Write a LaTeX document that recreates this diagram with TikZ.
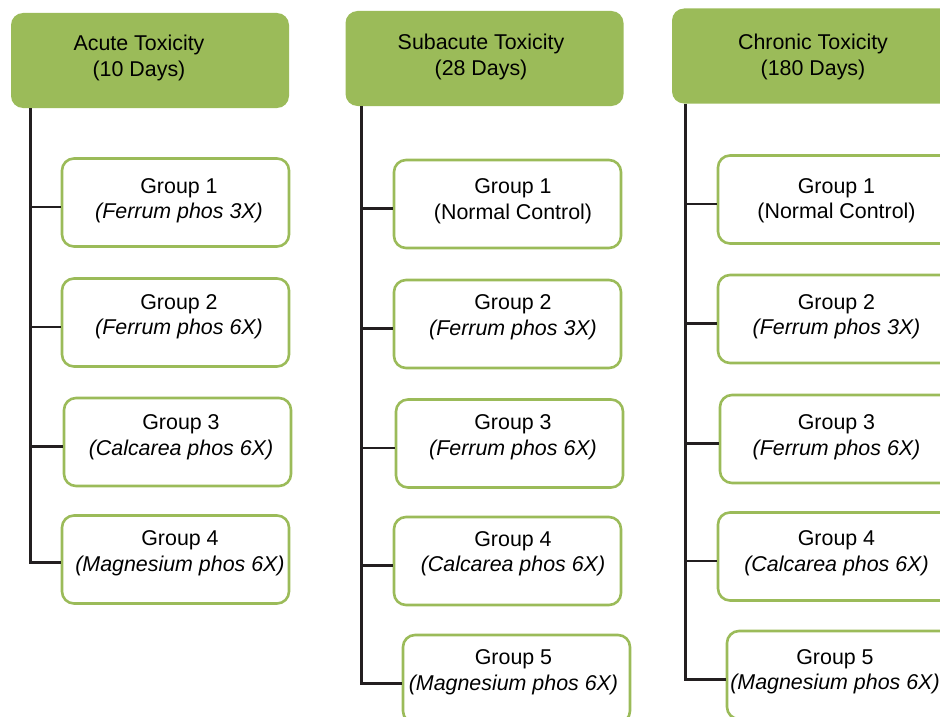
\documentclass[tikz,border=0pt]{standalone}
\usepackage{fontspec}
\setmainfont{Liberation Sans}
\begin{document}
\begin{tikzpicture}[x=1pt,y=-1pt,
  topbox/.style={fill=topgreen, rounded corners=12pt, minimum width=278pt, minimum height=95pt, inner sep=0pt},
  grpbox/.style={draw=topgreen, line width=2.6pt, fill=white, rounded corners=12pt, minimum width=227pt, minimum height=88pt, inner sep=0pt},
  txt/.style={inner sep=0pt, align=center, font=\fontsize{21.4}{25.5}\selectfont},
  conn/.style={draw=linecol, line width=2.8pt}]
\definecolor{topgreen}{HTML}{9BBB59}
\definecolor{linecol}{HTML}{231F20}
\useasboundingbox (0,0) rectangle (940,717);
\clip (0,0) rectangle (940,717);
% top boxes
\node[topbox] (t1) at (150,60.5) {};
\node[topbox] (t2) at (484.5,58.5) {};
\node[topbox, minimum width=282pt] (t3) at (813,56) {};
\node[txt] (t1t) at (139,58) {Acute Toxicity\\(10 Days)};
\node[txt] (t2t) at (481,57) {Subacute Toxicity\\(28 Days)};
\node[txt] (t3t) at (813,57) {Chronic Toxicity\\(180 Days)};
% column 1
\node[grpbox] (a1) at (175.5,202.5) {};
\node[grpbox] (a2) at (175.5,322.5) {};
\node[grpbox] (a3) at (177.5,442) {};
\node[grpbox] (a4) at (175.5,559.5) {};
\node[txt] (a1t) at (179,200.5) {Group 1\\\textit{(Ferrum phos 3X)}};
\node[txt] (a2t) at (179,316.5) {Group 2\\\textit{(Ferrum phos 6X)}};
\node[txt] (a3t) at (181,437) {Group 3\\\textit{(Calcarea phos 6X)}};
\node[txt] (a4t) at (180,553) {Group 4\\\textit{(Magnesium phos 6X)}};
% column 2
\node[grpbox] (b1) at (507.5,204) {};
\node[grpbox] (b2) at (507.5,324) {};
\node[grpbox] (b3) at (509.5,443.5) {};
\node[grpbox] (b4) at (507.5,561) {};
\node[grpbox] (b5) at (516.5,679) {};
\node[txt] (b1t) at (513,201) {Group 1\\(Normal Control)};
\node[txt] (b2t) at (513,317) {Group 2\\\textit{(Ferrum phos 3X)}};
\node[txt] (b3t) at (513,437) {Group 3\\\textit{(Ferrum phos 6X)}};
\node[txt] (b4t) at (513,553.5) {Group 4\\\textit{(Calcarea phos 6X)}};
\node[txt] (b5t) at (513.5,672) {Group 5\\\textit{(Magnesium phos 6X)}};
% column 3
\node[grpbox, minimum width=236pt] (c1) at (836,199.5) {};
\node[grpbox, minimum width=236pt] (c2) at (836,319) {};
\node[grpbox, minimum width=236pt] (c3) at (838,439) {};
\node[grpbox, minimum width=236pt] (c4) at (836,556.5) {};
\node[grpbox, minimum width=236pt] (c5) at (845,675) {};
\node[txt] (c1t) at (836.5,200.5) {Group 1\\(Normal Control)};
\node[txt] (c2t) at (836.5,316.5) {Group 2\\\textit{(Ferrum phos 3X)}};
\node[txt] (c3t) at (836.5,437) {Group 3\\\textit{(Ferrum phos 6X)}};
\node[txt] (c4t) at (836.5,553) {Group 4\\\textit{(Calcarea phos 6X)}};
\node[txt] (c5t) at (835,671.5) {Group 5\\\textit{(Magnesium phos 6X)}};
% trunks
\coordinate (r1) at ([xshift=20pt]t1.south west);
\coordinate (r2) at ([xshift=16pt]t2.south west);
\coordinate (r3) at ([xshift=14pt]t3.south west);
\draw[conn] (r1) |- ([yshift=-3pt]a4.west);
\draw[conn] (r2) |- ([yshift=-4.5pt]b5.west);
\draw[conn] (r3) |- ([yshift=-4.5pt]c5.west);
\foreach \n in {a1,a2,a3} \draw[conn] ([yshift=-4.5pt]\n.west) -- ([yshift=-4.5pt]\n.west -| r1);
\foreach \n in {b1,b2,b3,b4} \draw[conn] ([yshift=-4.5pt]\n.west) -- ([yshift=-4.5pt]\n.west -| r2);
\foreach \n in {c1,c2,c3,c4} \draw[conn] ([yshift=-4.5pt]\n.west) -- ([yshift=-4.5pt]\n.west -| r3);
\end{tikzpicture}
\end{document}
